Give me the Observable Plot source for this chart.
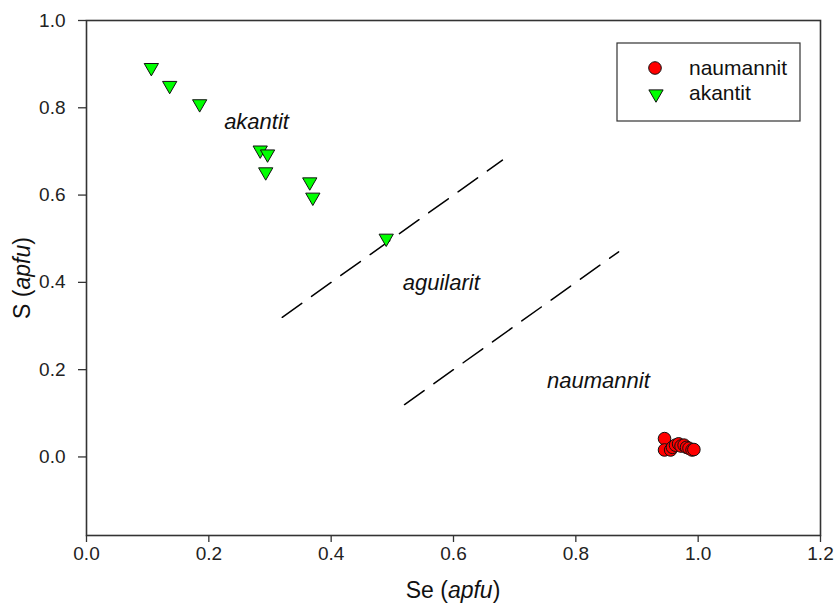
<!DOCTYPE html>
<html><head><meta charset="utf-8">
<script src="https://cdn.jsdelivr.net/npm/d3@7"></script>
<script src="https://cdn.jsdelivr.net/npm/@observablehq/plot@0.6"></script>
<style>
body{margin:0;background:#fff}
svg{font-family:"Liberation Sans",Arial,sans-serif}
</style>
</head><body><div id="chart"></div>
<script>
// Data
const naumannitSe = [0.945, 0.945, 0.955, 0.958, 0.963, 0.968, 0.972, 0.977, 0.981, 0.985, 0.990, 0.993];
const naumannitS  = [0.042, 0.016, 0.016, 0.022, 0.027, 0.030, 0.025, 0.027, 0.022, 0.020, 0.016, 0.017];
const akantitSe = [0.106, 0.136, 0.185, 0.284, 0.296, 0.293, 0.365, 0.370, 0.490];
const akantitS  = [0.892, 0.851, 0.809, 0.703, 0.694, 0.653, 0.630, 0.595, 0.501];
const boundarySe1 = [0.32, 0.68];
const boundaryS1  = [0.32, 0.68];
const boundarySe2 = [0.52, 0.87];
const boundaryS2  = [0.12, 0.47];
const fieldNames = ["akantit", "aguilarit", "naumannit"];
const fieldSe = [0.278, 0.58, 0.837];
const fieldS  = [0.768, 0.398, 0.175];
const xTicks = [0.0, 0.2, 0.4, 0.6, 0.8, 1.0, 1.2];
const yTicks = [0.0, 0.2, 0.4, 0.6, 0.8, 1.0];
const seriesNames = ["naumannit", "akantit"];

const naumannit = naumannitSe.map((x, i) => ({x, y: naumannitS[i]}));
const akantit = akantitSe.map((x, i) => ({x, y: akantitS[i]}));
const b1 = boundarySe1.map((x, i) => ({x, y: boundaryS1[i]}));
const b2 = boundarySe2.map((x, i) => ({x, y: boundaryS2[i]}));
const fields = fieldNames.map((t, i) => ({t, x: fieldSe[i], y: fieldS[i]}));

const fmt = d3.format(".1f");
const plot = Plot.plot({
  width: 835, height: 603,
  marginLeft: 86, marginRight: 15, marginTop: 20, marginBottom: 68,
  x: {domain: [0, 1.2]},
  y: {domain: [-0.18, 1.0]},
  style: {fontFamily: "Liberation Sans, Arial, sans-serif", fontSize: "19px", color: "#222", background: "white", overflow: "visible"},
  marks: [
    Plot.axisX({ticks: xTicks, tickSize: 7, tickPadding: 4, label: null, tickFormat: fmt, fontSize: 19, stroke: "#333", strokeWidth: 1.3}),
    Plot.axisY({ticks: yTicks, tickSize: 8, tickPadding: 13, label: null, tickFormat: fmt, fontSize: 19, stroke: "#333", strokeWidth: 1.3}),
    Plot.frame({stroke: "#333", strokeWidth: 1.6}),
    Plot.line(b1, {x: "x", y: "y", stroke: "black", strokeWidth: 1.5, strokeDasharray: "24,12"}),
    Plot.line(b2, {x: "x", y: "y", stroke: "black", strokeWidth: 1.5, strokeDasharray: "24,12"}),
    Plot.text(fields, {x: "x", y: "y", text: "t", fontStyle: "italic", fontSize: 22, fill: "#111"}),
    Plot.dot(akantit, {x: "x", y: "y", symbol: "triangle", rotate: 180, r: 5.3, fill: "#00ff00", stroke: "#111", strokeWidth: 1}),
    Plot.dot(naumannit, {x: "x", y: "y", symbol: "circle", r: 6.3, fill: "#ff0000", stroke: "#111", strokeWidth: 1})
  ]
});
document.getElementById("chart").appendChild(plot);

const svg = d3.select(plot);
// axis titles
const xt = svg.append("text").attr("x", 453).attr("y", 598).attr("text-anchor", "middle")
  .attr("font-size", 23).attr("fill", "#111");
xt.append("tspan").text("Se (");
xt.append("tspan").attr("font-style", "italic").text("apfu");
xt.append("tspan").text(")");
const yt = svg.append("text").attr("transform", "translate(30,278) rotate(-90)").attr("text-anchor", "middle")
  .attr("font-size", 23).attr("fill", "#111");
yt.append("tspan").text("S (");
yt.append("tspan").attr("font-style", "italic").text("apfu");
yt.append("tspan").text(")");

// legend
const lg = svg.append("g");
lg.append("rect").attr("x", 617).attr("y", 43).attr("width", 183).attr("height", 78)
  .attr("fill", "white").attr("stroke", "#333").attr("stroke-width", 1.2);
lg.append("circle").attr("cx", 655).attr("cy", 68).attr("r", 6.3).attr("fill", "#ff0000").attr("stroke", "#111");
lg.append("path").attr("d", d3.symbol(d3.symbolTriangle, Math.PI * 5.3 * 5.3)())
  .attr("transform", "translate(656,94) rotate(180)").attr("fill", "#00ff00").attr("stroke", "#111");
seriesNames.forEach((n, i) => {
  lg.append("text").attr("x", 689).attr("y", 75 + i * 25).attr("text-anchor", "start")
    .attr("font-size", 21).attr("fill", "#111").text(n);
});
</script>
</body></html>
